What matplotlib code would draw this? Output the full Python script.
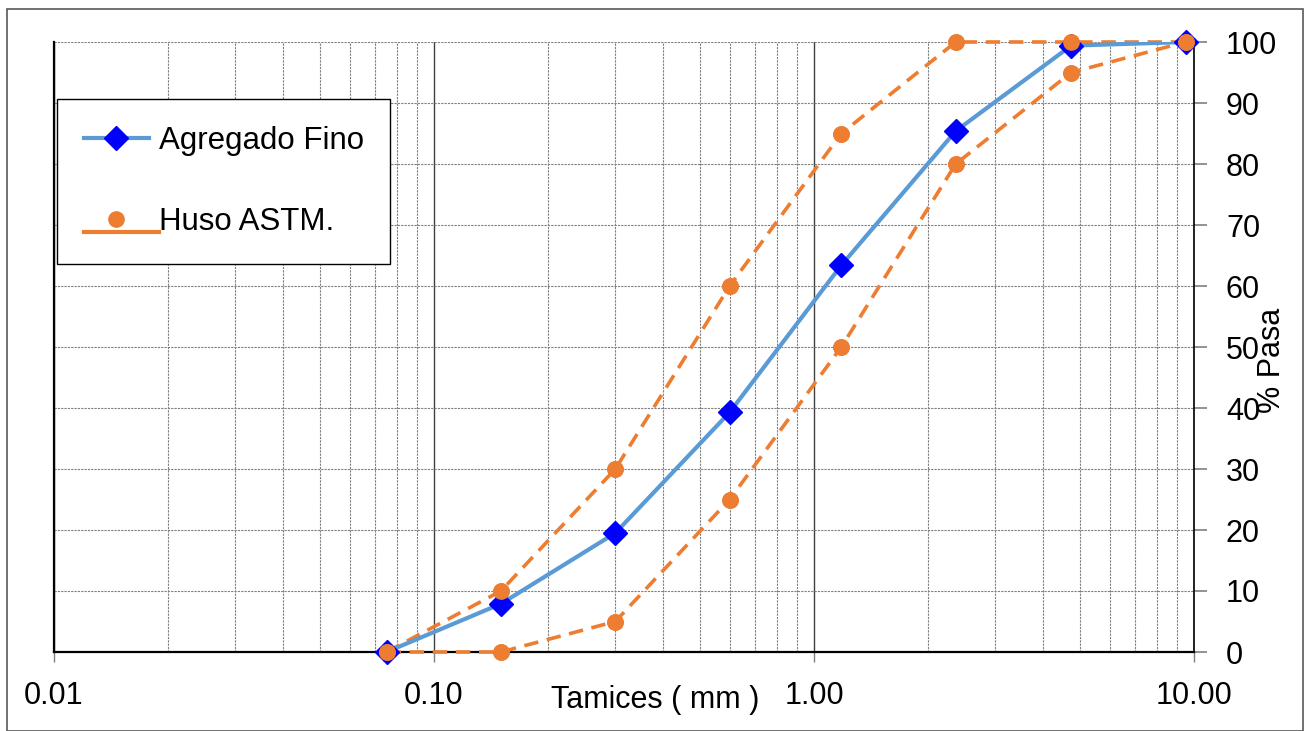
import matplotlib
matplotlib.use("Agg")
import matplotlib.pyplot as plt
import numpy as np
from matplotlib.legend_handler import HandlerLine2D
from matplotlib.lines import Line2D
from matplotlib.patches import Rectangle
from matplotlib.ticker import FixedLocator, LogLocator, NullFormatter

plt.rcParams["font.family"] = ["Liberation Sans", "DejaVu Sans"]

# Sieve openings (mm) and % passing
tamices = [0.075, 0.15, 0.30, 0.60, 1.18, 2.36, 4.75, 9.50]
agregado_fino = [0.0, 7.9, 19.5, 39.3, 63.4, 85.4, 99.4, 100.0]
huso_sup = [0.0, 10.0, 30.0, 60.0, 85.0, 100.0, 100.0, 100.0]
huso_inf = [0.0, 0.0, 5.0, 25.0, 50.0, 80.0, 95.0, 100.0]

x_ticks = [0.01, 0.1, 1.0, 10.0]
x_tick_labels = ["0.01", "0.10", "1.00", "10.00"]
y_ticks = list(range(0, 101, 10))

AZUL_LINEA = "#5B9BD5"
AZUL_MARCA = "#0000FF"
NARANJA = "#ED7D31"
DASHES = (0, (4.0, 2.4))


class MarkerAboveLine(HandlerLine2D):
    """Excel-style legend key: marker sits above a longer line."""

    def create_artists(self, legend, orig_handle, xdescent, ydescent, width,
                       height, fontsize, trans):
        legline = super().create_artists(legend, orig_handle, xdescent, ydescent,
                                         width, height, fontsize, trans)[0]
        xd = np.asarray(legline.get_xdata(), dtype=float)
        yd = np.asarray(legline.get_ydata(), dtype=float)
        marker = Line2D([(xd[0] + xd[-1]) / 2], [yd[0]], linestyle="none",
                        marker=legline.get_marker(), markersize=legline.get_markersize(),
                        color=legline.get_markerfacecolor())
        marker.set_transform(trans)
        legline.set_marker("None")
        legline.set_markevery(None)
        legline.set_xdata([xd[0], xd[-1] + 0.3 * fontsize])
        legline.set_ydata([yd[0] - 0.42 * fontsize] * 2)
        return [legline, marker]


fig = plt.figure(figsize=(13.05, 7.31), dpi=100)
ax = fig.add_axes([54 / 1305, 1 - 652 / 731, (1194 - 54) / 1305, (652 - 42) / 731])

ax.set_xscale("log")
ax.set_xlim(0.01, 10)
ax.set_ylim(0, 100)

# grid
ax.xaxis.set_major_locator(FixedLocator(x_ticks))
ax.set_xticklabels(x_tick_labels)
ax.xaxis.set_minor_locator(LogLocator(base=10, subs=np.arange(2, 10)))
ax.xaxis.set_minor_formatter(NullFormatter())
ax.grid(True, which="major", axis="x", color="#404040", linestyle="-", linewidth=1.0)
ax.grid(True, which="minor", axis="x", color="#7f7f7f", linestyle=(0, (2, 1)), linewidth=0.8)
ax.set_yticks(y_ticks)
ax.grid(True, which="major", axis="y", color="#7f7f7f", linestyle=(0, (2, 1)), linewidth=0.8)
ax.set_axisbelow(True)

ax.yaxis.tick_right()
ax.tick_params(axis="y", which="major", direction="out", length=9, width=1.2,
               color="#7f7f7f", labelsize=22, pad=14)
ax.tick_params(axis="x", which="major", direction="out", length=7, width=1.0,
               color="#7f7f7f", labelsize=22, pad=14)
ax.tick_params(axis="x", which="minor", length=0)

ax.spines["top"].set_visible(False)
ax.spines["left"].set_linewidth(1.6)
ax.spines["bottom"].set_linewidth(1.6)
ax.spines["right"].set_linewidth(1.2)

# curves
ax.plot(tamices, huso_sup, color=NARANJA, linewidth=2.6, linestyle=DASHES,
        marker="o", markersize=11, zorder=3, clip_on=False)
ax.plot(tamices, huso_inf, color=NARANJA, linewidth=2.6, linestyle=DASHES,
        marker="o", markersize=11, zorder=3, clip_on=False)
ax.plot(tamices, agregado_fino, color=AZUL_LINEA, linewidth=3.0, zorder=4)
ax.plot(tamices, agregado_fino, linestyle="none", marker="D", markersize=12.5,
        color=AZUL_MARCA, zorder=5, clip_on=False)
# orange markers stay on top of the blue ones where they coincide
ax.plot(tamices, huso_sup, linestyle="none", marker="o", markersize=11,
        color=NARANJA, zorder=6, clip_on=False)
ax.plot(tamices, huso_inf, linestyle="none", marker="o", markersize=11,
        color=NARANJA, zorder=6, clip_on=False)

# legend
h_fino = Line2D([], [], color=AZUL_LINEA, linewidth=3.0, marker="D", markersize=12.5,
                markerfacecolor=AZUL_MARCA, markeredgecolor=AZUL_MARCA)
h_huso = Line2D([], [], color=NARANJA, linewidth=3.0, marker="o", markersize=11,
                markerfacecolor=NARANJA, markeredgecolor=NARANJA)
leg = ax.legend([h_fino, h_huso], ["Agregado Fino", "Huso ASTM."], loc="upper left",
                bbox_to_anchor=(57 / 1305, 1 - 99 / 731), bbox_transform=fig.transFigure,
                borderaxespad=0, fontsize=22.5, frameon=True, fancybox=False,
                edgecolor="black", framealpha=1, handlelength=2.1, handletextpad=0.3,
                labelspacing=1.65, borderpad=0.85,
                handler_map={h_huso: MarkerAboveLine()})
leg.get_frame().set_linewidth(1.0)

# axis titles
fig.text(655 / 1305, 1 - 700 / 731, "Tamices ( mm )", fontsize=22, ha="center", va="center")
fig.text(1272 / 1305, 1 - 360 / 731, "% Pasa", fontsize=22, ha="center", va="center",
         rotation=90)

# outer chart border
fig.patches.append(Rectangle((7 / 1305, 0), (1303 - 7) / 1305, 1 - 9 / 731,
                             transform=fig.transFigure, fill=False,
                             edgecolor="#595959", linewidth=1.2))

fig.savefig("out.png", dpi=100)
